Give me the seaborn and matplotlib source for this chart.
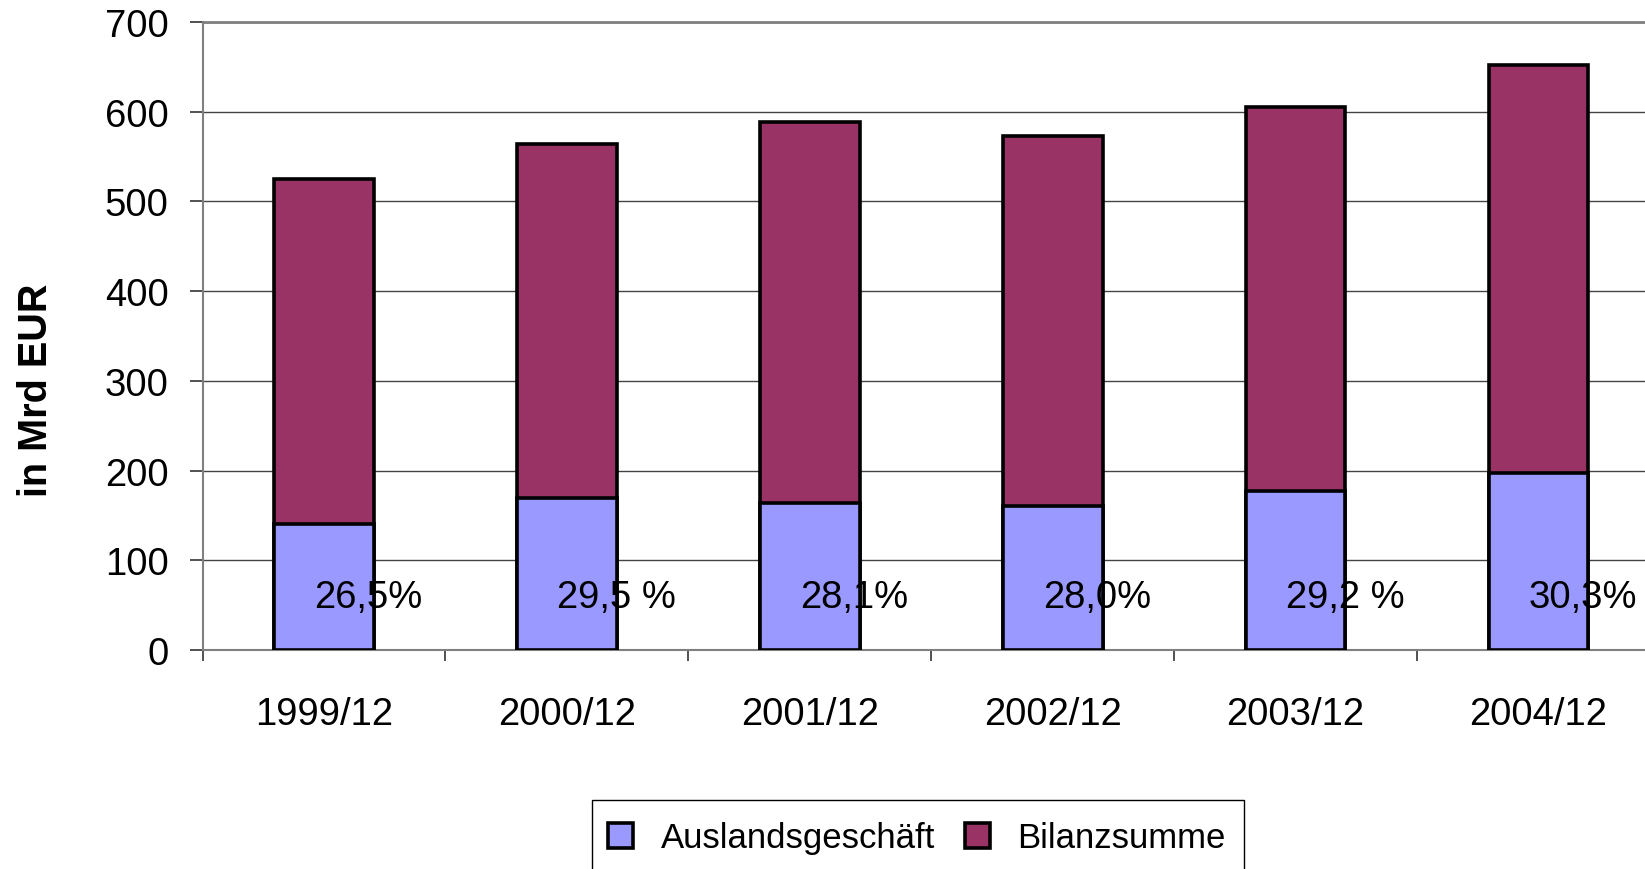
import numpy as np
import pandas as pd
import matplotlib
matplotlib.use("Agg")
import matplotlib.pyplot as plt
import matplotlib.patches as mpatches
import seaborn as sns

categories = ["1999/12", "2000/12", "2001/12", "2002/12", "2003/12", "2004/12"]
bilanzsumme = [525, 564, 589, 573, 605, 652]
auslandsgeschaeft = [140, 169, 164, 160, 177, 197]
pct_labels = ["26,5%", "29,5 %", "28,1%", "28,0%", "29,2 %", "30,3%"]
yticks = [0, 100, 200, 300, 400, 500, 600, 700]

sns.set_theme(style="white")
plt.rcParams['font.family'] = ['Liberation Sans', 'DejaVu Sans']
plt.rcParams['text.color'] = 'black'

df = pd.DataFrame({"cat": categories, "total": bilanzsumme, "foreign": auslandsgeschaeft})

W, H = 1645, 870
fig = plt.figure(figsize=(16.45, 8.7), dpi=100)
ax = fig.add_axes([202.5 / W, 1 - 651 / H, (1660 - 202.5) / W, (651 - 23) / H])

col_top = "#993366"
col_bot = "#9999FF"

sns.barplot(data=df, x="cat", y="total", color=col_top, saturation=1, width=0.41,
            edgecolor="black", linewidth=2.6, ax=ax, zorder=3)
sns.barplot(data=df, x="cat", y="foreign", color=col_bot, saturation=1, width=0.41,
            edgecolor="black", linewidth=2.6, ax=ax, zorder=4)

ax.set_xlim(-0.5, 5.5)
ax.set_ylim(0, 700)
ax.set_yticks(yticks)
ax.set_yticklabels([str(v) for v in yticks])
ax.yaxis.grid(True, color="#444444", linewidth=1.0, zorder=0)
ax.xaxis.grid(False)
ax.set_axisbelow(True)

for s in ["left", "bottom", "top"]:
    ax.spines[s].set_visible(True)
    ax.spines[s].set_color("#808080")
ax.spines["left"].set_linewidth(1.5)
ax.spines["bottom"].set_linewidth(1.5)
ax.spines["top"].set_linewidth(2.0)
ax.spines["right"].set_visible(False)

fs = 27.5
ax.tick_params(axis="y", which="major", left=True, length=9.5, width=1.2, color="#333333",
               pad=15, labelsize=fs, labelcolor="black")
ax.tick_params(axis="x", which="major", bottom=False, length=0, pad=33, labelsize=fs,
               labelcolor="black")
ax.set_xticks(np.arange(-0.5, 6.0, 1.0), minor=True)
ax.tick_params(axis="x", which="minor", bottom=True, length=8, width=1.2, color="#333333")
ax.set_xlabel("")
ax.set_ylabel("")

for i, lab in enumerate(pct_labels):
    ax.text(i - 0.04, 59, lab, ha="left", va="center", fontsize=fs, color="black", zorder=6)

fig.text(36 / W, 1 - 390 / H, "in Mrd EUR", rotation=90, ha="center", va="center",
         fontsize=28.5, fontweight="bold", color="black")

# legend frame (extends past the bottom edge, as in the reference)
frame = mpatches.Rectangle((592 / W, 1 - 890 / H), (1244 - 592) / W, (890 - 801) / H,
                           transform=fig.transFigure, facecolor="white", edgecolor="black",
                           linewidth=1.0, zorder=1)
fig.patches.append(frame)

handles = [mpatches.Patch(facecolor=col_bot, edgecolor="black", linewidth=2.6, label="Auslandsgeschäft"),
           mpatches.Patch(facecolor=col_top, edgecolor="black", linewidth=2.6, label="Bilanzsumme")]
leg = fig.legend(handles=handles, loc="center left", bbox_to_anchor=(608 / W, 1 - 839 / H),
                 ncol=2, frameon=False, fontsize=25, handlelength=0.72,
                 handleheight=0.72, handletextpad=0.8, columnspacing=0.85, borderpad=0,
                 borderaxespad=0)
for t in leg.get_texts():
    t.set_color("black")

fig.savefig("out.png", dpi=100)
